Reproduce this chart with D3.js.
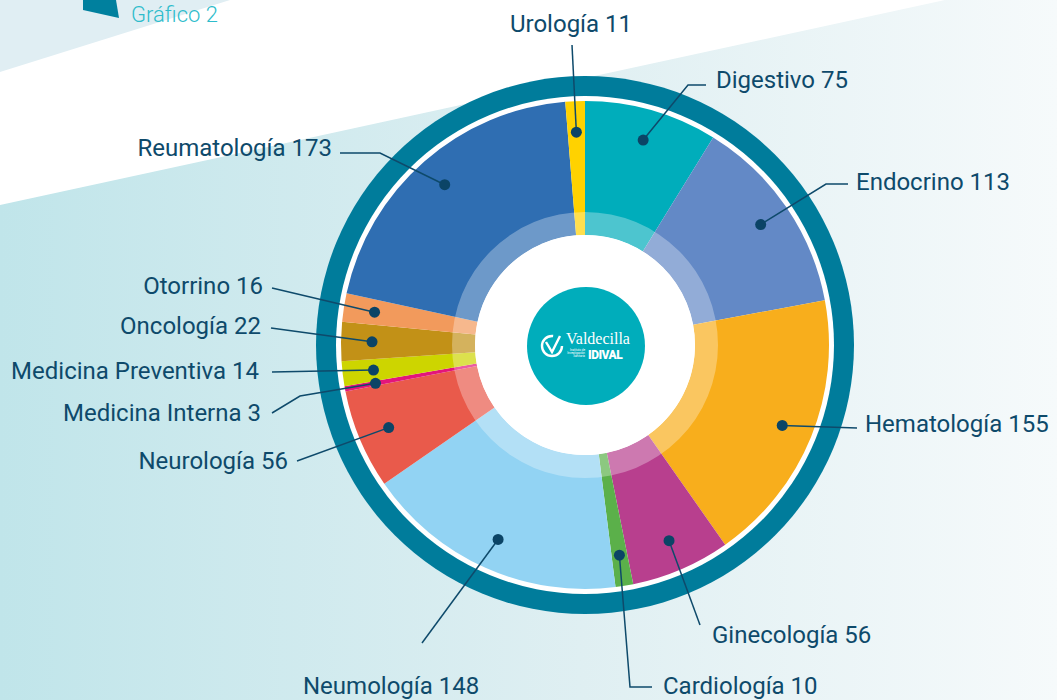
<!DOCTYPE html>
<html>
<head>
<meta charset="utf-8">
<script src="https://cdn.jsdelivr.net/npm/d3@7"></script>
<style>
  html, body { margin: 0; padding: 0; background: #fff; }
  svg { display: block; }
</style>
</head>
<body>
<svg id="chart" width="1057" height="700"></svg>
<script>
// Gráfico 2: pacientes por servicio (donut con etiquetas externas)

const categories = ['Digestivo', 'Endocrino', 'Hematología', 'Ginecología', 'Cardiología',
  'Neumología', 'Neurología', 'Medicina Interna', 'Medicina Preventiva', 'Oncología',
  'Otorrino', 'Reumatología', 'Urología'];
const values = [75, 113, 155, 56, 10, 148, 56, 3, 14, 22, 16, 173, 11];
const colors = ['#00adbb', '#6389c6', '#f8ae1c', '#b83f8e', '#5bb04a', '#92d3f3', '#e95a4b',
  '#e3157b', '#cdd500', '#c29117', '#f29a5c', '#2f6eb2', '#ffd200'];

// label placement: text anchor point + elbow points of the leader line (label side first)
const labelLayout = {
  'Urología':            { x: 571, y: 32,  anchor: 'middle', pts: [[572, 45]] },
  'Digestivo':           { x: 716, y: 88,  anchor: 'start',  pts: [[706, 85], [688, 85]] },
  'Endocrino':           { x: 856, y: 190, anchor: 'start',  pts: [[848, 184], [826, 184]] },
  'Hematología':         { x: 865, y: 432, anchor: 'start',  pts: [[857, 428]] },
  'Ginecología':         { x: 712, y: 643, anchor: 'start',  pts: [[700, 625]] },
  'Cardiología':         { x: 663, y: 694, anchor: 'start',  pts: [[652, 687], [630, 687]] },
  'Neumología':          { x: 303, y: 694, anchor: 'start',  pts: [[422, 643]] },
  'Neurología':          { x: 288, y: 469, anchor: 'end',    pts: [[297, 461]] },
  'Medicina Interna':    { x: 261, y: 421, anchor: 'end',    pts: [[272, 413], [300, 396]] },
  'Medicina Preventiva': { x: 259, y: 379, anchor: 'end',    pts: [[272, 372]] },
  'Oncología':           { x: 261, y: 334, anchor: 'end',    pts: [[271, 328]] },
  'Otorrino':            { x: 263, y: 294, anchor: 'end',    pts: [[272, 288]] },
  'Reumatología':        { x: 332, y: 156, anchor: 'end',    pts: [[340, 153], [380, 153]] }
};

const W = 1057, H = 700;
const cx = 585, cy = 345;
const R_RING_OUT = 269, R_RING_IN = 249, R_OUT = 244, R_BAND = 133, R_HOLE = 110, R_LOGO = 59, R_DOT = 213;
const INK = '#0e4a6b';
const FONT = 'Roboto, "Open Sans", sans-serif';

const svg = d3.select('#chart');
const defs = svg.append('defs');

// background
const bgGrad = defs.append('linearGradient').attr('id', 'bg')
  .attr('x1', '0%').attr('y1', '0%').attr('x2', '100%').attr('y2', '0%');
bgGrad.append('stop').attr('offset', '0%').attr('stop-color', '#c0e5ea');
bgGrad.append('stop').attr('offset', '55%').attr('stop-color', '#dfeff2');
bgGrad.append('stop').attr('offset', '100%').attr('stop-color', '#f6fafb');

svg.append('rect').attr('width', W).attr('height', H).style('fill', 'url(#bg)');
// white diagonal band
svg.append('path')
  .attr('d', `M0,0 L945,0 L0,205 Z`)
  .style('fill', '#ffffff');
svg.append('path')
  .attr('d', 'M0,0 L230,0 L0,72 Z')
  .style('fill', '#e0eef3');
svg.append('path')
  .attr('d', 'M83,0 L116,0 L119,18 L83,10 Z')
  .style('fill', '#00809e');
svg.append('text')
  .attr('x', 131).attr('y', 22)
  .style('font-family', FONT).style('font-weight', '300').style('font-size', '22px')
  .style('fill', '#2dbccb')
  .text('Gráfico 2');

const g = svg.append('g').attr('transform', `translate(${cx},${cy})`);

// outer ring + white gap
g.append('circle').attr('r', R_RING_OUT).style('fill', '#007c9b');
g.append('circle').attr('r', R_RING_IN).style('fill', '#ffffff');

const pie = d3.pie().sort(null).value(d => d.value);
const arcs = pie(categories.map((c, i) => ({ name: c, value: values[i], color: colors[i] })));

const arc = d3.arc().innerRadius(R_HOLE).outerRadius(R_OUT);
g.selectAll('path.slice')
  .data(arcs)
  .join('path')
  .attr('class', 'slice')
  .attr('d', arc)
  .style('fill', d => d.data.color);

// translucent inner band
g.append('path')
  .attr('d', d3.arc().innerRadius(R_HOLE).outerRadius(R_BAND).startAngle(0).endAngle(2 * Math.PI)())
  .style('fill', '#ffffff').style('fill-opacity', 0.3);
g.append('circle').attr('r', R_HOLE).style('fill', '#ffffff');

// logo
const logo = g.append('g').attr('transform', 'translate(1,1)');
logo.append('circle').attr('r', R_LOGO).style('fill', '#00adbb');
logo.append('circle').attr('cx', -34).attr('cy', 0).attr('r', 10)
  .style('fill', 'none').style('stroke', '#fff').style('stroke-width', 2.4)
  .attr('stroke-dasharray', '48 15');
logo.append('path').attr('d', 'M-40,-4 L-34,6 L-26,-10')
  .style('fill', 'none').style('stroke', '#fff').style('stroke-width', 2.4);
logo.append('text').attr('x', -20).attr('y', -2)
  .style('font-family', '"Liberation Serif", "DejaVu Serif", serif').style('font-size', '16px')
  .style('fill', '#fff').text('Valdecilla');
[['Instituto de', 5], ['Investigación', 8], ['Sanitaria', 11]].forEach(([t, dy]) => {
  logo.append('text').attr('x', -1).attr('y', dy).attr('text-anchor', 'end')
    .style('font-family', FONT).style('font-size', '3px').style('fill', '#fff').text(t);
});
logo.append('text').attr('x', 2).attr('y', 13)
  .style('font-family', FONT).style('font-weight', '900').style('font-size', '12px')
  .style('letter-spacing', '-0.5px')
  .style('fill', '#fff').text('IDIVAL');

// leader lines, dots, labels
const dotArc = d3.arc().innerRadius(R_DOT).outerRadius(R_DOT);
const line = d3.line();
const lab = svg.append('g');

arcs.forEach(d => {
  const L = labelLayout[d.data.name];
  const [dx, dy] = dotArc.centroid(d);
  const dot = [cx + dx, cy + dy];
  lab.append('path')
    .attr('d', line([...L.pts, dot]))
    .style('fill', 'none').style('stroke', INK).style('stroke-width', 1.5);
  lab.append('circle')
    .attr('cx', dot[0]).attr('cy', dot[1]).attr('r', 5.5)
    .style('fill', '#0b4466');
  lab.append('text')
    .attr('x', L.x).attr('y', L.y)
    .attr('text-anchor', L.anchor)
    .style('font-family', FONT).style('font-size', '24px')
    .style('fill', INK)
    .text(`${d.data.name} ${d.data.value}`);
});
</script>
</body>
</html>
